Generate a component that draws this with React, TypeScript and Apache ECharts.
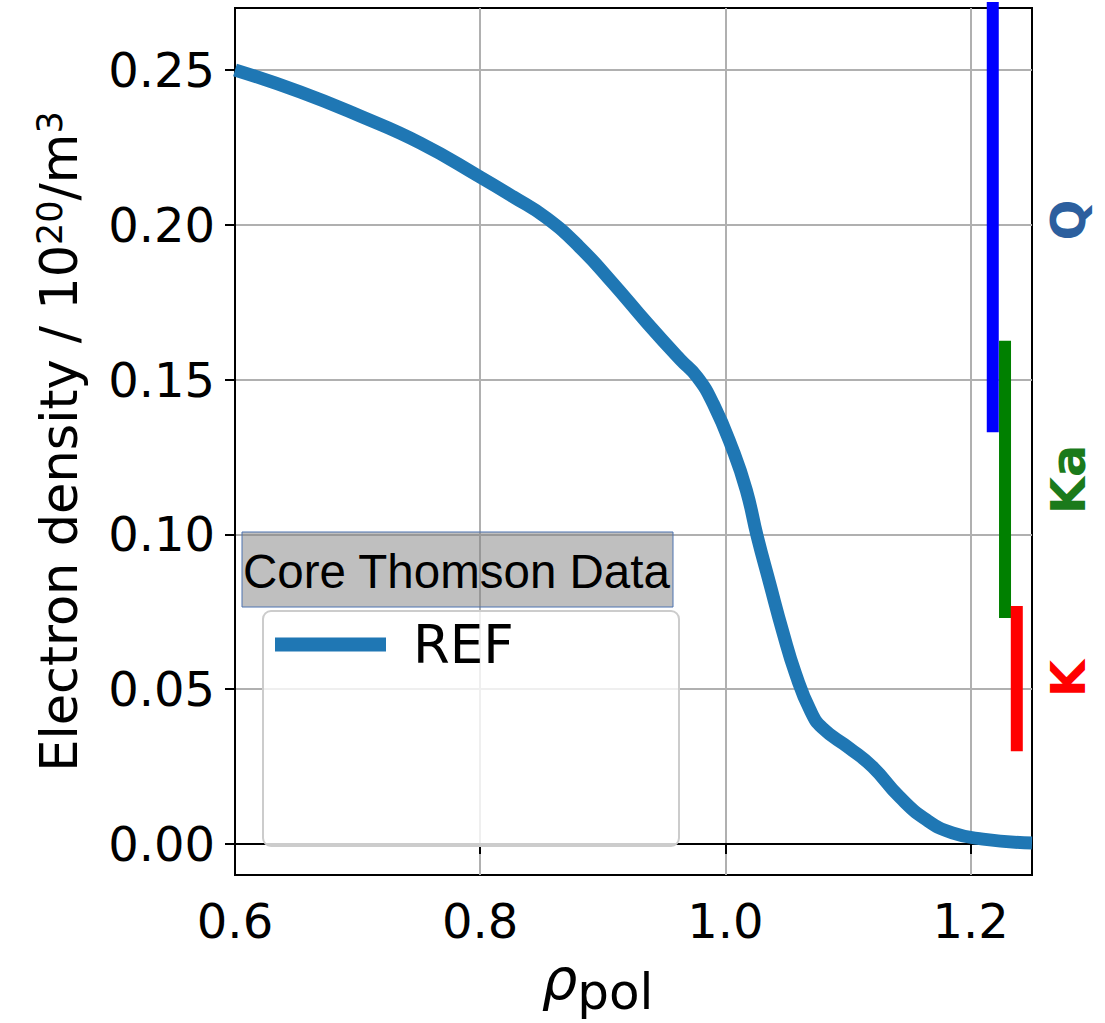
import React, { useEffect, useRef } from 'react';
import * as echarts from 'echarts';

// Electron density profile (REF)
const rho = [0.6, 0.653, 0.702, 0.751, 0.8, 0.827, 0.854, 0.881, 0.908, 0.936, 0.963, 0.977, 0.99, 1.006, 1.017, 1.026, 1.036, 1.047, 1.057, 1.069, 1.079, 1.101, 1.12, 1.142, 1.164, 1.185, 1.21, 1.25];
const ne = [0.25, 0.2429, 0.2351, 0.2264, 0.2154, 0.209, 0.2022, 0.1928, 0.1812, 0.1683, 0.1565, 0.1508, 0.1422, 0.1273, 0.1143, 0.0992, 0.0843, 0.0682, 0.0552, 0.0433, 0.0375, 0.031, 0.0249, 0.0152, 0.0078, 0.0036, 0.0016, 0.0003];

const xTicks = [0.6, 0.8, 1.0, 1.2];
const yTicks = [0, 0.05, 0.1, 0.15, 0.2, 0.25];
const xMin = 0.6;
const xMax = 1.25;
const yMin = -0.01;
const yMax = 0.27;

// Reflectometer bands
const bandNames = ['Q', 'Ka', 'K'];
const bandX = [1.218, 1.228, 1.2376];
const bandLow = [0.133, 0.073, 0.03];
const bandHigh = [0.3, 0.1625, 0.0769];
const bandLineColors = ['#0000ff', '#008000', '#ff0000'];
const bandLabelColors = ['#2c5f9e', '#1b7a1b', '#ff0000'];

const legendTitle = 'Core Thomson Data';
const seriesName = 'REF';

export default function App() {
  const ref = useRef<HTMLDivElement>(null);
  useEffect(() => {
    if (!ref.current) return;
    const chart = echarts.init(ref.current, null, { renderer: 'svg' });
    const curve = rho.map((x, i) => [x, ne[i]]);
    const bandSeries = bandNames.map((n, i) => ({
      name: n,
      type: 'line',
      data: [[bandX[i], bandLow[i]], [bandX[i], bandHigh[i]]],
      showSymbol: false,
      symbol: 'none',
      lineStyle: { color: bandLineColors[i], width: 12, cap: 'butt' },
      z: 3,
      silent: true,
    }));
    const tickFont = { fontFamily: 'DejaVu Sans', fontSize: 48, color: '#000' };
    chart.setOption({
      animation: false,
      backgroundColor: '#fff',
      grid: {
        left: 235, top: 8, right: 73, bottom: 148,
        show: true, borderColor: '#000', borderWidth: 2, backgroundColor: 'transparent',
      },
      xAxis: {
        type: 'value', min: xMin, max: xMax,
        name: '{r|ρ}{s|pol}',
        nameLocation: 'middle', nameGap: 76,
        nameTextStyle: {
          rich: {
            r: { fontFamily: 'DejaVu Sans', fontStyle: 'italic', fontSize: 56, lineHeight: 60, verticalAlign: 'top', color: '#000' },
            s: { fontFamily: 'DejaVu Sans', fontSize: 50, lineHeight: 60, padding: [16, 72, 0, 0], verticalAlign: 'top', color: '#000' },
          },
        },
        axisLine: { show: true, lineStyle: { color: '#000', width: 2 } },
        axisTick: { show: true, inside: false, length: 10, lineStyle: { color: '#000', width: 2 }, customValues: xTicks },
        axisLabel: { ...tickFont, margin: 22, customValues: xTicks, formatter: (v: number) => v.toFixed(1) },
        splitLine: { show: true, lineStyle: { color: '#b0b0b0', width: 2 } },
      },
      yAxis: {
        type: 'value', min: yMin, max: yMax,
        name: '{n|Electron density / 10}{p|20}{n|/m}{p|3}',
        nameLocation: 'middle', nameRotate: 90, nameGap: 150,
        nameTextStyle: {
          rich: {
            n: { fontFamily: 'DejaVu Sans', fontSize: 51, lineHeight: 60, verticalAlign: 'bottom', color: '#000' },
            p: { fontFamily: 'DejaVu Sans', fontSize: 35, lineHeight: 60, padding: [0, 0, 18, 0], verticalAlign: 'bottom', color: '#000' },
          },
        },
        axisLine: { show: true, lineStyle: { color: '#000', width: 2 } },
        axisTick: { show: true, inside: false, length: 10, lineStyle: { color: '#000', width: 2 }, customValues: yTicks },
        axisLabel: { ...tickFont, margin: 20, customValues: yTicks, formatter: (v: number) => v.toFixed(2) },
        splitLine: { show: true, lineStyle: { color: '#b0b0b0', width: 2 } },
      },
      legend: {
        data: [seriesName],
        left: 275, top: 618, padding: 0,
        icon: 'rect', itemWidth: 111, itemHeight: 14,
        selectedMode: false,
        textStyle: { fontFamily: 'DejaVu Sans', fontSize: 53, color: '#000', padding: [0, 0, 0, 22] },
        z: 20,
      },
      graphic: [
        {
          id: 'legendBox', type: 'rect', z: 10,
          shape: { x: 263, y: 611, width: 416, height: 235, r: 8 },
          style: { fill: 'rgba(255,255,255,0.8)', stroke: '#cccccc', lineWidth: 2 },
        },
        {
          id: 'titleBox', type: 'rect', z: 10,
          shape: { x: 242, y: 532, width: 431, height: 75 },
          style: { fill: 'rgba(128,128,128,0.5)', stroke: '#4c72b0', lineWidth: 1 },
        },
        {
          id: 'titleText', type: 'text', z: 11, x: 243, y: 571,
          style: { text: legendTitle, font: '47.5px "Liberation Sans"', fill: '#000', align: 'left', verticalAlign: 'middle' },
        },
      ],
      series: [
        {
          name: seriesName, type: 'line', data: curve,
          smooth: 0.5, showSymbol: false, symbol: 'none',
          lineStyle: { color: '#1f77b4', width: 13, cap: 'butt' },
          itemStyle: { color: '#1f77b4' },
          z: 2,
        },
        ...bandSeries,
      ],
    });
    const labels = bandNames.map((n, i) => {
      const mid = (bandLow[i] + Math.min(bandHigh[i], yMax)) / 2;
      const p = chart.convertToPixel({ gridIndex: 0 }, [xMax, mid]) as number[];
      return {
        id: 'band_' + n, type: 'text', z: 12, x: p[0] + 36, y: p[1], rotation: Math.PI / 2,
        style: { text: n, font: 'bold 48px "DejaVu Sans"', fill: bandLabelColors[i], align: 'center', verticalAlign: 'middle' },
      };
    });
    chart.setOption({ graphic: labels });
    return () => chart.dispose();
  }, []);
  return <div ref={ref} style={{ position: 'fixed', left: 0, top: 0, width: 1105, height: 1023 }} />;
}
